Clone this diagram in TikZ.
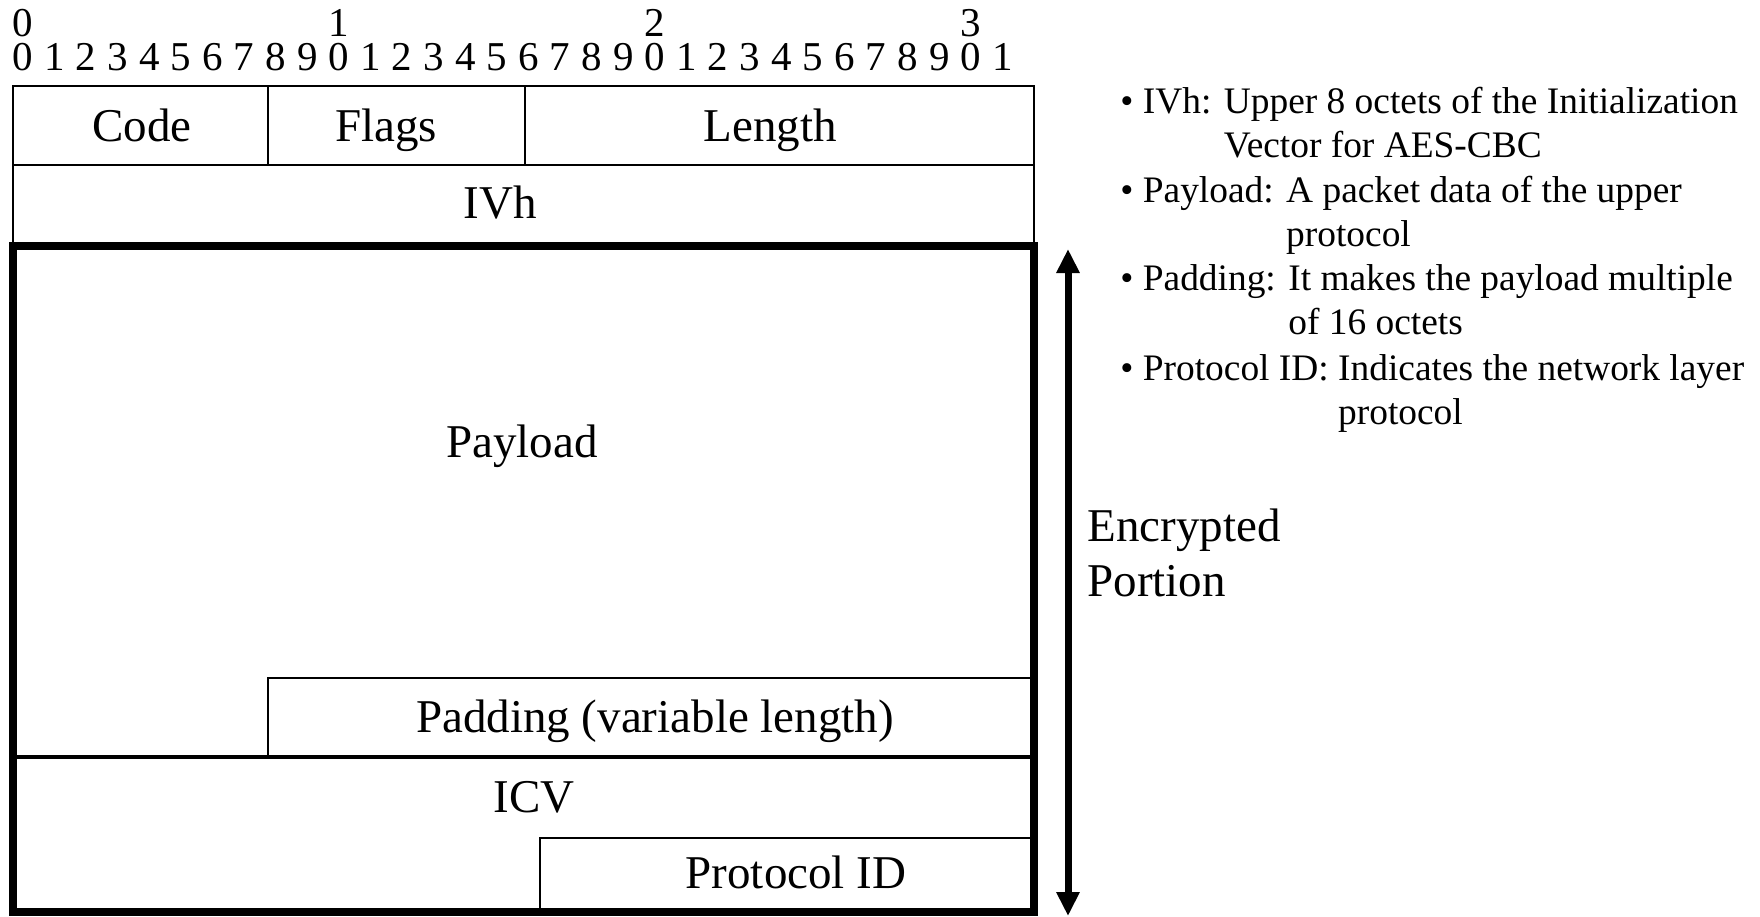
\documentclass[tikz,border=0pt]{standalone}
\usepackage{fontspec}
\setmainfont{Liberation Serif}
\usepackage{tikz}
\usetikzlibrary{arrows.meta}
\tikzset{
	boxtext/.style={inner sep=0pt,anchor=base,font=\fontsize{23.5}{28}\selectfont},
	bittext/.style={inner sep=0pt,anchor=base,font=\fontsize{20.5}{24}\selectfont},
	notetext/.style={inner sep=0pt,anchor=base west,font=\fontsize{18.7}{22.2}\selectfont},
	thinline/.style={line width=1pt},
	thickline/.style={line width=4pt}
}

\begin{document}
\begin{tikzpicture}[x=0.5pt,y=-0.5pt]
				\useasboundingbox (0,0) rectangle (1760,916);
				\def\lft{13};
				\def\rgt{1034};
				\def\bitx{23};
				\def\bitw{31.6};
				\foreach \i in {0,...,31}{
					\pgfmathtruncatemacro\d{mod(\i,10)}
					\node[bittext] (bit\i) at ({\bitx+\bitw*\i},70) {\d};
				}
				\foreach \t in {0,...,3}
					\node[bittext] (tens\t) at ({\bitx+10*\bitw*\t},36) {\t};
				\draw[thinline] (\lft,86) rectangle (\rgt,246);
				\draw[thinline] (\lft,165) -- (\rgt,165)
				(268,86) -- (268,165)
				(525,86) -- (525,165);
				\draw[thinline] (268,757) |- (\rgt,678);
				\draw[line width=2pt] (\lft,757) -- (\rgt,757);
				\draw[thinline] (540,912) |- (\rgt,838);
				\draw[thickline] (\lft,246) rectangle (\rgt,912);
				\node[boxtext] (code) at (142,141) {Code};
				\node[boxtext] (flags) at (386,141) {Flags};
				\node[boxtext] (length) at (770,141) {Length};
				\node[boxtext] (ivh) at (500,218) {IVh};
				\node[boxtext] (payload) at (522,457) {Payload};
				\node[boxtext] (padding) at (655,732) {Padding (variable length)};
				\node[boxtext] (icv) at (534,812) {ICV};
				\node[boxtext] (protoid) at (796,888) {Protocol ID};
				\coordinate (enctop) at (1068,249);
				\coordinate (encbot) at (1068,916);
				\draw[line width=3.5pt,{Triangle[length=12pt,width=11pt]}-{Triangle[length=12pt,width=11pt]}] (enctop) -- (encbot);
				\node[boxtext,anchor=base west] (encr) at (1087,541) {Encrypted};
				\node[boxtext,anchor=base west] (portion) at (1087,596) {Portion};
				\node[notetext] (noteivh) at (1120,113) {\textbullet\ IVh: \begin{tabular}[t]{@{}l@{}}Upper 8 octets of the Initialization\\Vector for AES-CBC\end{tabular}};
				\node[notetext] (notepay) at (1120,202) {\textbullet\ Payload: \begin{tabular}[t]{@{}l@{}}A packet data of the upper\\protocol\end{tabular}};
				\node[notetext] (notepad) at (1120,290) {\textbullet\ Padding: \begin{tabular}[t]{@{}l@{}}It makes the payload multiple\\of 16 octets\end{tabular}};
				\node[notetext] (noteproto) at (1120,380) {\textbullet\ Protocol ID: \begin{tabular}[t]{@{}l@{}}Indicates the network layer\\protocol\end{tabular}};
\end{tikzpicture}
\end{document}
